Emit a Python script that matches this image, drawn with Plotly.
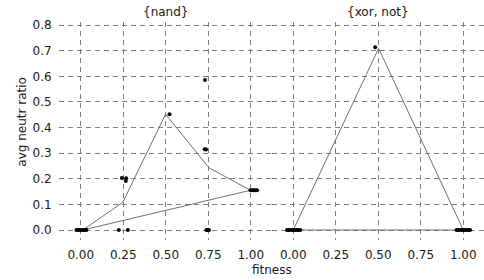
import plotly.graph_objects as go

# ---- data ----
panel_titles = ["{nand}", "{xor, not}"]
x_ticks = [0.0, 0.25, 0.5, 0.75, 1.0]
x_tick_labels = ["0.00", "0.25", "0.50", "0.75", "1.00"]
y_ticks = [0.0, 0.1, 0.2, 0.3, 0.4, 0.5, 0.6, 0.7, 0.8]
y_tick_labels = ["0.0", "0.1", "0.2", "0.3", "0.4", "0.5", "0.6", "0.7", "0.8"]

nand_pts_x = [-0.025, -0.015, -0.005, 0.005, 0.015, 0.025, 0.033,
              0.224, 0.277,
              0.242, 0.267, 0.265,
              0.522,
              0.731,
              0.729, 0.737,
              0.739, 0.746, 0.754,
              0.998, 1.008, 1.018, 1.028, 1.037]
nand_pts_y = [0.0, 0.0, 0.0, 0.0, 0.0, 0.0, 0.0,
              0.0, 0.0,
              0.203, 0.202, 0.191,
              0.452,
              0.586,
              0.315, 0.314,
              0.0, 0.0, 0.0,
              0.155, 0.155, 0.155, 0.155, 0.155]
nand_line_x = [0.012, 0.247, 0.499, 0.754, 0.998, 0.012]
nand_line_y = [0.0, 0.108, 0.452, 0.243, 0.155, 0.0]

xornot_pts_x = [-0.037, -0.027, -0.017, -0.007, 0.003, 0.013, 0.023, 0.033, 0.041,
                0.482,
                0.961, 0.971, 0.981, 0.991, 1.001, 1.011, 1.021, 1.031, 1.040]
xornot_pts_y = [0.0, 0.0, 0.0, 0.0, 0.0, 0.0, 0.0, 0.0, 0.0,
                0.713,
                0.0, 0.0, 0.0, 0.0, 0.0, 0.0, 0.0, 0.0, 0.0]
xornot_line_x = [0.0, 0.502, 1.0, 0.0]
xornot_line_y = [0.0, 0.709, 0.0, 0.0]

# ---- styling ----
FONT = "DejaVu Sans"
TXT = "#1a1a1a"
GRID = "#7f7f7f"
LINE = "#707070"
FS = 12

fig = go.Figure()

for i, (lx, ly, px, py) in enumerate([
        (nand_line_x, nand_line_y, nand_pts_x, nand_pts_y),
        (xornot_line_x, xornot_line_y, xornot_pts_x, xornot_pts_y)]):
    xa = "x" if i == 0 else "x2"
    fig.add_trace(go.Scatter(x=lx, y=ly, mode="lines", xaxis=xa, yaxis="y",
                             line=dict(color=LINE, width=1), showlegend=False,
                             hoverinfo="skip"))
    fig.add_trace(go.Scatter(x=px, y=py, mode="markers", xaxis=xa, yaxis="y",
                             marker=dict(color="black", size=4, line=dict(width=0)),
                             showlegend=False))

xcommon = dict(range=[-0.128, 1.122], tickvals=x_ticks, ticktext=x_tick_labels,
               showgrid=True, gridcolor=GRID, gridwidth=1, griddash="5px,4px",
               zeroline=False, showline=False, ticks="outside", ticklen=4,
               tickcolor="rgba(0,0,0,0)", tickfont=dict(family=FONT, size=FS, color=TXT),
               fixedrange=True)

fig.update_layout(
    width=484, height=280,
    margin=dict(l=59, r=0, t=22, b=40),
    paper_bgcolor="white", plot_bgcolor="white",
    font=dict(family=FONT, size=FS, color=TXT),
    xaxis=dict(domain=[0, 0.5], anchor="y", **xcommon),
    xaxis2=dict(domain=[0.5, 1.0], anchor="y", **xcommon),
    yaxis=dict(range=[-0.039, 0.812], tickvals=y_ticks, ticktext=y_tick_labels,
               showgrid=True, gridcolor=GRID, gridwidth=1, griddash="5px,4px",
               zeroline=False, showline=False, ticks="outside", ticklen=4,
               tickcolor="rgba(0,0,0,0)", tickfont=dict(family=FONT, size=FS, color=TXT),
               fixedrange=True),
    annotations=[
        dict(text=panel_titles[0], x=0.25, y=1, xref="paper", yref="paper",
             xanchor="center", yanchor="bottom", yshift=1, showarrow=False,
             font=dict(family=FONT, size=FS, color=TXT)),
        dict(text=panel_titles[1], x=0.75, y=1, xref="paper", yref="paper",
             xanchor="center", yanchor="bottom", yshift=1, showarrow=False,
             font=dict(family=FONT, size=FS, color=TXT)),
        dict(text="fitness", x=0.501, y=-0.1376, xref="paper", yref="paper",
             xanchor="center", yanchor="middle", showarrow=False,
             font=dict(family=FONT, size=FS, color=TXT)),
        dict(text="avg neutr ratio", x=-0.088, y=0.541, xref="paper", yref="paper",
             xanchor="center", yanchor="middle", textangle=-90, showarrow=False,
             font=dict(family=FONT, size=FS, color=TXT)),
    ],
)

fig.write_html("out.html", config={"displayModeBar": False},
               post_script="document.body.style.margin='0';")
